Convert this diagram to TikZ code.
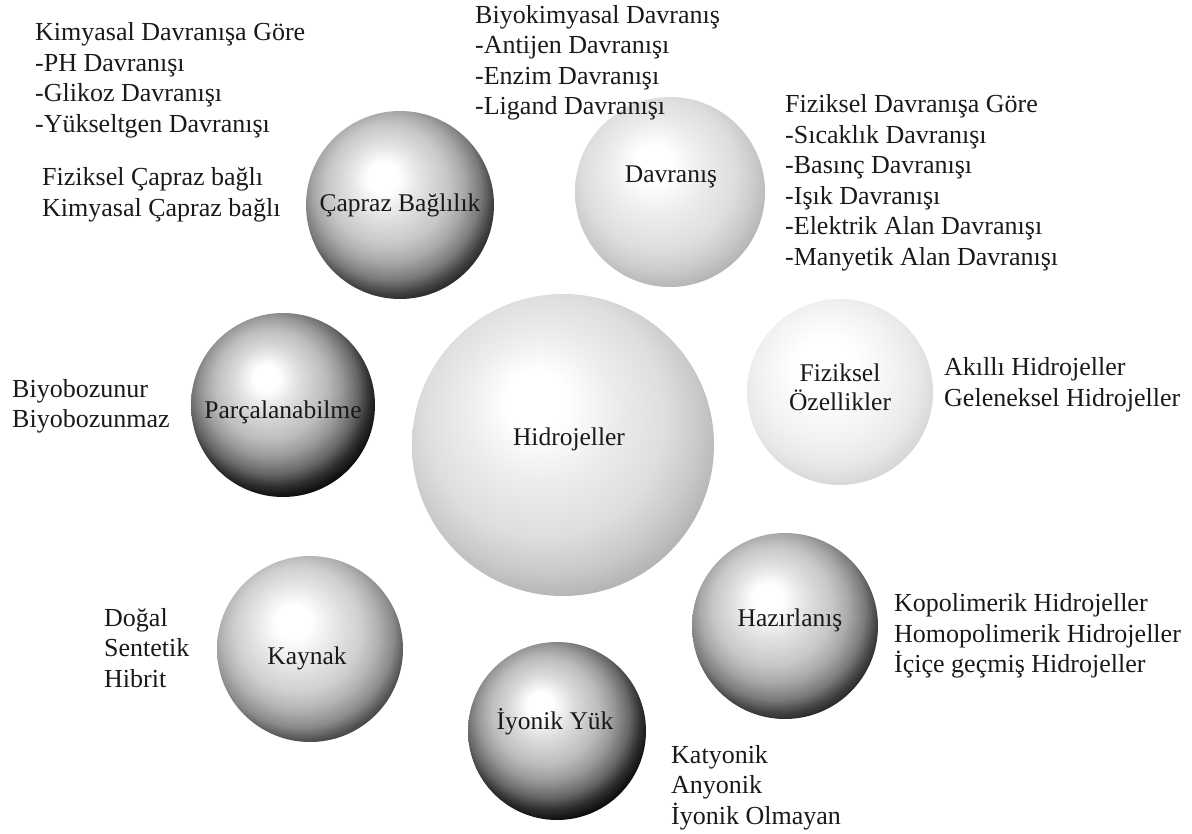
\documentclass[tikz,border=0pt]{standalone}
\usepackage{fontspec}
\setmainfont{Liberation Serif}
% rim of the node = 25bp
\pgfdeclareradialshading{darkball}{\pgfpoint{-5bp}{8bp}}{%
  color(0bp)=(white); color(4bp)=(white); color(10bp)=(black!12);
  color(16bp)=(black!22); color(20bp)=(black!34); color(24bp)=(black!52);
  color(27bp)=(black!74); color(30bp)=(black!90); color(50bp)=(black!92)}
\pgfdeclareradialshading{darkerball}{\pgfpoint{-5bp}{8bp}}{%
  color(0bp)=(white); color(3.5bp)=(white); color(9bp)=(black!14);
  color(15bp)=(black!26); color(19bp)=(black!40); color(23bp)=(black!60);
  color(26bp)=(black!82); color(29bp)=(black!97); color(50bp)=(black)}
\pgfdeclareradialshading{midball}{\pgfpoint{-5bp}{8bp}}{%
  color(0bp)=(white); color(4.5bp)=(white); color(11bp)=(black!10);
  color(17bp)=(black!19); color(21bp)=(black!30); color(25bp)=(black!46);
  color(28bp)=(black!68); color(31bp)=(black!85); color(50bp)=(black!88)}
\pgfdeclareradialshading{lightball}{\pgfpoint{-5bp}{8bp}}{%
  color(0bp)=(white); color(5bp)=(white); color(12bp)=(black!7);
  color(20bp)=(black!13); color(25bp)=(black!21); color(29bp)=(black!30);
  color(50bp)=(black!30)}
\pgfdeclareradialshading{paleball}{\pgfpoint{-5bp}{8bp}}{%
  color(0bp)=(white); color(8bp)=(white); color(18bp)=(black!5);
  color(24bp)=(black!9); color(28bp)=(black!15); color(50bp)=(black!15)}
\begin{document}
\begin{tikzpicture}[x=1pt,y=-1pt,
  ball/.style={circle,inner sep=0pt,minimum size=#1},
  txt/.style={font=\fontsize{26}{30.5}\selectfont,text=black!90,inner sep=0pt},
  lbl/.style={txt,font=\fontsize{25.5}{29}\selectfont},
  blk/.style={txt,align=left,anchor=west}]
\useasboundingbox (0,0) rectangle (1192,834);
% balls
\node[ball=188pt,shading=darkball] (capraz) at (400,205) {};
\node[ball=190pt,shading=lightball] (davranis) at (670,192) {};
\node[ball=302pt,shading=lightball] (hidro) at (563,445) {};
\node[ball=184pt,shading=darkerball] (parca) at (283,405) {};
\node[ball=186pt,shading=paleball] (fiz) at (840,392) {};
\node[ball=186pt,shading=midball] (kaynak) at (310,649) {};
\node[ball=186pt,shading=darkball] (hazir) at (785,626) {};
\node[ball=178pt,shading=darkerball] (iyon) at (557,731) {};
% ball labels
\node[lbl] (lcapraz) at (400,205) {Çapraz Bağlılık};
\node[lbl] (ldavranis) at (671,177) {Davranış};
\node[lbl] (lhidro) at (569,439) {Hidrojeller};
\node[lbl] (lparca) at (283,412) {Parçalanabilme};
\node[lbl,align=center] (lfiz) at (840,387) {Fiziksel\\Özellikler};
\node[lbl] (lkaynak) at (307,658) {Kaynak};
\node[lbl] (lhazir) at (790,620) {Hazırlanış};
\node[lbl] (liyon) at (555,722) {İyonik Yük};
% side texts
\node[blk] (tkim) at (35,80.5) {Kimyasal Davranışa Göre\\-PH Davranışı\\-Glikoz Davranışı\\-Yükseltgen Davranışı};
\node[blk] (tbiyo) at (475,63) {Biyokimyasal Davranış\\-Antijen Davranışı\\-Enzim Davranışı\\-Ligand Davranışı};
\node[blk] (tfizd) at (785,183) {Fiziksel Davranışa Göre\\-Sıcaklık Davranışı\\-Basınç Davranışı\\-Işık Davranışı\\-Elektrik Alan Davranışı\\-Manyetik Alan Davranışı};
\node[blk] (tcap) at (42,195) {Fiziksel Çapraz bağlı\\Kimyasal Çapraz bağlı};
\node[blk] (takil) at (944,384.5) {Akıllı Hidrojeller\\Geleneksel Hidrojeller};
\node[blk] (tbiyob) at (12,406.5) {Biyobozunur\\Biyobozunmaz};
\node[blk] (tdogal) at (104,648) {Doğal\\Sentetik\\Hibrit};
\node[blk] (tkopo) at (894,636) {Kopolimerik Hidrojeller\\Homopolimerik Hidrojeller\\İçiçe geçmiş Hidrojeller};
\node[blk] (tkat) at (671,787.5) {Katyonik\\Anyonik\\İyonik Olmayan};
\end{tikzpicture}
\end{document}
